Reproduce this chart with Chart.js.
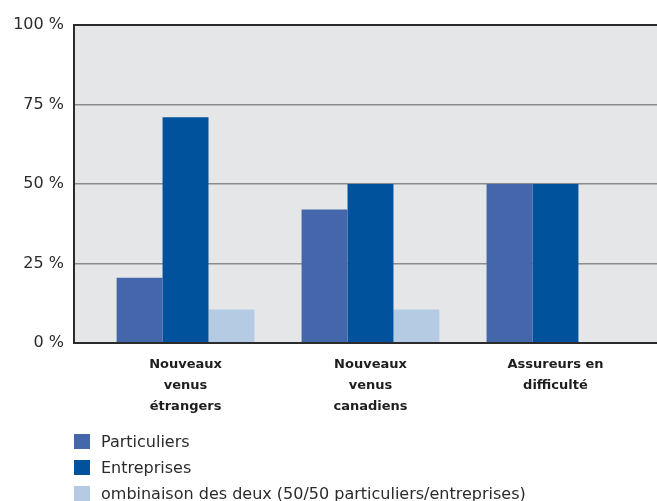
<!DOCTYPE html>
<html>
<head>
<meta charset="utf-8">
<script src="https://cdn.jsdelivr.net/npm/chart.js@4/dist/chart.umd.min.js"></script>
<style>
  html, body { margin: 0; padding: 0; background: #ffffff; }
  #wrap { position: relative; width: 657px; height: 501px; overflow: hidden; }
  #chart { position: absolute; left: 0; top: 0; }
  #legend { position: absolute; left: 74px; top: 429px; font-family: "DejaVu Sans", sans-serif; font-size: 16px; color: #2b2b2b; }
  .item { display: flex; align-items: center; height: 25.7px; white-space: nowrap; }
  .swatch { width: 16px; height: 15px; margin-right: 11px; flex: none; }
</style>
</head>
<body>
<div id="wrap">
  <canvas id="chart" width="657" height="501"></canvas>
  <div id="legend"></div>
</div>
<script>
// Categories (multi-line labels)
const categories = [
  ["Nouveaux", "venus", "étrangers"],
  ["Nouveaux", "venus", "canadiens"],
  ["Assureurs en", "difficulté"]
];

// Series values (%)
const particuliers = [20.5, 42, 50];
const entreprises  = [71, 50, 50];
const combinaison  = [10.5, 10.5, null];

// Series names
const seriesNames = [
  "Particuliers",
  "Entreprises",
  "ombinaison des deux (50/50 particuliers/entreprises)"
];
const seriesColors = ["#4466ab", "#01529c", "#b4cbe3"];

// Y-axis tick values
const yTicks = [0, 25, 50, 75, 100];

const toPoints = arr => arr.map((v, i) => ({ x: i, y: v }));
const seriesValues = [particuliers, entreprises, combinaison];

const datasets = seriesValues.map((vals, k) => ({
  label: seriesNames[k],
  data: toPoints(vals),
  backgroundColor: seriesColors[k],
  borderWidth: 0,
  categoryPercentage: 0.745,
  barPercentage: 1.0
}));

// Plot background fill
const plotBackground = {
  id: 'plotBackground',
  beforeDraw(chart) {
    const { ctx, chartArea: a } = chart;
    ctx.save();
    ctx.fillStyle = '#e5e6e8';
    ctx.fillRect(a.left, a.top, a.right - a.left, a.bottom - a.top);
    ctx.restore();
  }
};

new Chart(document.getElementById('chart'), {
  type: 'bar',
  data: { datasets },
  plugins: [plotBackground],
  options: {
    responsive: false,
    animation: false,
    parsing: { xAxisKey: 'x', yAxisKey: 'y' },
    layout: { padding: { top: 25, right: 0, bottom: 78, left: 0 } },
    plugins: {
      legend: { display: false },
      tooltip: { enabled: false },
      title: { display: false }
    },
    scales: {
      x: {
        type: 'linear',
        offset: false,
        bounds: 'data',
        min: -0.603,
        max: 2.549,
        afterBuildTicks(scale) {
          scale.ticks = categories.map((_, i) => ({ value: i }));
        },
        afterFit(scale) { scale.height = 80; },
        grid: { display: false, drawTicks: false, offset: false },
        border: { display: true, color: '#2b2b2b', width: 2, z: 1 },
        ticks: {
          autoSkip: false,
          maxRotation: 0,
          padding: 11,
          color: '#1e1e1e',
          font: { family: 'DejaVu Sans', size: 13, weight: 'bold', lineHeight: 21 / 13 },
          callback: v => categories[v]
        }
      },
      y: {
        min: 0,
        max: 100,
        afterBuildTicks(scale) {
          scale.ticks = yTicks.map(v => ({ value: v }));
        },
        afterFit(scale) { scale.width = 74; },
        grid: {
          drawTicks: false,
          color: c => (c.tick && c.tick.value === 100) ? '#2b2b2b' : '#8c8c8c',
          lineWidth: c => (c.tick && c.tick.value === 100) ? 2 : 1.5
        },
        border: { display: true, color: '#2b2b2b', width: 2, z: 1 },
        ticks: {
          padding: 10,
          color: '#2b2b2b',
          font: { family: 'DejaVu Sans', size: 16 },
          callback: v => v + ' %'
        }
      }
    }
  }
});

// Legend rows
const legend = document.getElementById('legend');
seriesNames.forEach((name, k) => {
  const row = document.createElement('div');
  row.className = 'item';
  const sw = document.createElement('span');
  sw.className = 'swatch';
  sw.style.background = seriesColors[k];
  const tx = document.createElement('span');
  tx.textContent = name;
  row.appendChild(sw);
  row.appendChild(tx);
  legend.appendChild(row);
});
</script>
</body>
</html>
